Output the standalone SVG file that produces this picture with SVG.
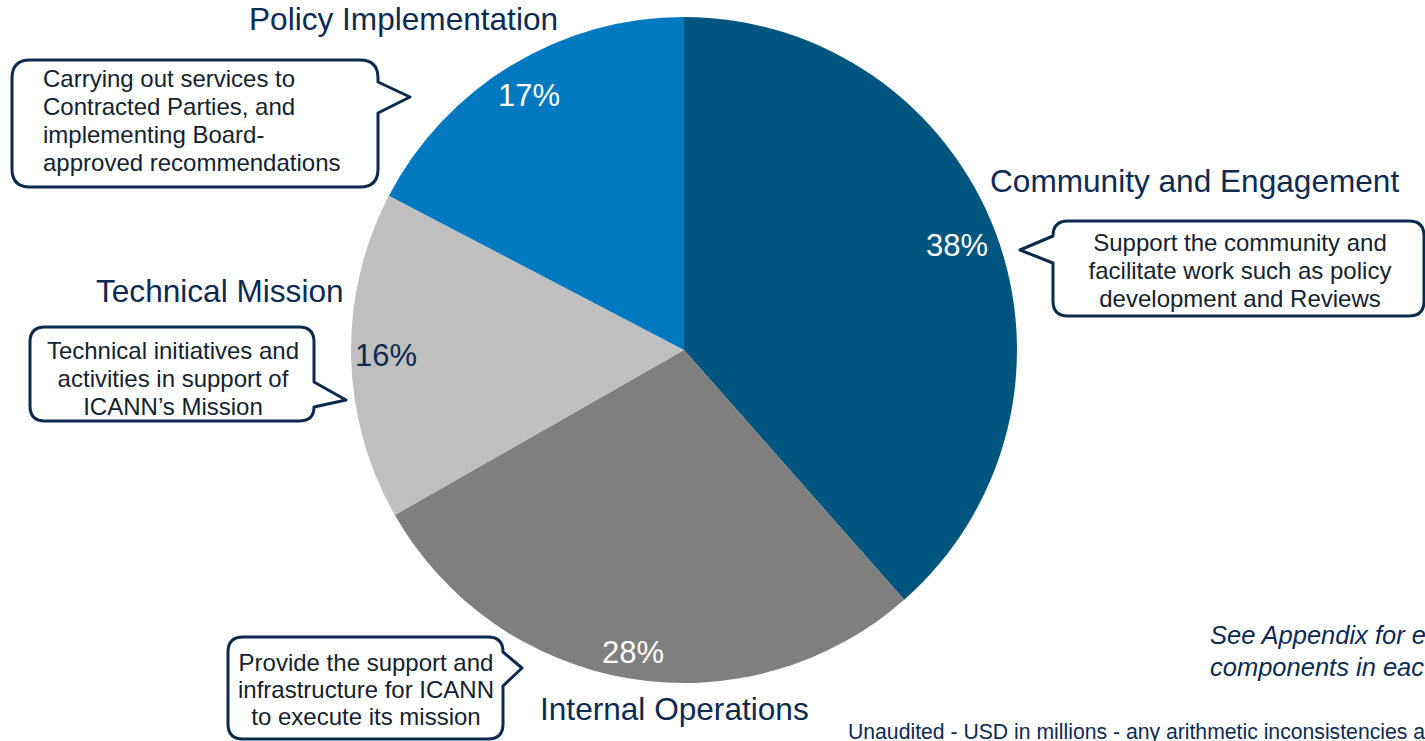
<svg xmlns="http://www.w3.org/2000/svg" width="1425" height="741" viewBox="0 0 1425 741">
<style>
.title{font-family:"Liberation Sans",Arial,sans-serif;font-size:31.6px;fill:#0D2B52}
.pct{font-family:"Liberation Sans",Arial,sans-serif;font-size:31px;text-anchor:middle}
.call{fill:#ffffff;stroke:#0C2A4D;stroke-width:3;stroke-linejoin:round}
.ct{font-family:"Liberation Sans",Arial,sans-serif;font-size:24px;fill:#14232E}
.note{font-family:"Liberation Sans",Arial,sans-serif;font-size:25.5px;font-style:italic;fill:#0D2B52}
.foot{font-family:"Liberation Sans",Arial,sans-serif;font-size:21.2px;fill:#0D2B52}
</style>
<rect width="1425" height="741" fill="#ffffff"/>
<g id="pie">
<path id="slice-community" d="M684,350 L684,17 A333,333 0 0 1 904.2,599.8 Z" fill="#00567E"/>
<path id="slice-internal" d="M684,350 L904.2,599.8 A333,333 0 0 1 394.8,515 Z" fill="#7F7F7F"/>
<path id="slice-technical" d="M684,350 L394.8,515 A333,333 0 0 1 388.9,195.7 Z" fill="#BFBFBF"/>
<path id="slice-policy" d="M684,350 L388.9,195.7 A333,333 0 0 1 684,17 Z" fill="#0079C1"/>
<text class="pct" x="529" y="106" fill="#ffffff">17%</text>
<text class="pct" x="957" y="256" fill="#ffffff">38%</text>
<text class="pct" x="386" y="366" fill="#0D2B52">16%</text>
<text class="pct" x="633" y="663" fill="#ffffff">28%</text>
</g>
<g id="titles">
<text class="title" x="249" y="30">Policy Implementation</text>
<text class="title" x="990" y="192">Community and Engagement</text>
<text class="title" x="96" y="302">Technical Mission</text>
<text class="title" x="540" y="720">Internal Operations</text>
</g>
<g id="callout-policy">
<path class="call" d="M30,60 H360 Q378,60 378,78 V82 L410,97 L378,113 V169 Q378,187 360,187 H30 Q12,187 12,169 V78 Q12,60 30,60 Z"/>
<text class="ct" x="43" y="87">Carrying out services to</text>
<text class="ct" x="43" y="115">Contracted Parties, and</text>
<text class="ct" x="43" y="143">implementing Board-</text>
<text class="ct" x="43" y="171">approved recommendations</text>
</g>
<g id="callout-community">
<path class="call" d="M1068,221 H1409 Q1424,221 1424,236 V301 Q1424,316 1409,316 H1068 Q1053,316 1053,301 V263 L1020,250 L1053,236 Q1053,221 1068,221 Z"/>
<text class="ct" x="1240" y="251" text-anchor="middle">Support the community and</text>
<text class="ct" x="1240" y="279" text-anchor="middle">facilitate work such as policy</text>
<text class="ct" x="1240" y="307" text-anchor="middle">development and Reviews</text>
</g>
<g id="callout-technical">
<path class="call" d="M45,327 H299 Q314,327 314,342 V382 L346,400 L314,407 Q314,421 299,421 H45 Q30,421 30,406 V342 Q30,327 45,327 Z"/>
<text class="ct" x="173" y="359" text-anchor="middle">Technical initiatives and</text>
<text class="ct" x="173" y="387" text-anchor="middle">activities in support of</text>
<text class="ct" x="173" y="415" text-anchor="middle">ICANN’s Mission</text>
</g>
<g id="callout-internal">
<path class="call" d="M243,637 H488 Q503,637 503,652 L522,668 L503,686 V724 Q503,739 488,739 H243 Q228,739 228,724 V652 Q228,637 243,637 Z"/>
<text class="ct" x="366" y="671" text-anchor="middle">Provide the support and</text>
<text class="ct" x="366" y="698" text-anchor="middle">infrastructure for ICANN</text>
<text class="ct" x="366" y="725" text-anchor="middle">to execute its mission</text>
</g>
<g id="connectors"></g>
<g id="notes">
<text class="note" x="1210" y="644">See Appendix for e</text>
<text class="note" x="1210" y="676">components in eac</text>
<text class="foot" x="848" y="739">Unaudited - USD in millions - any arithmetic inconsistencies a</text>
</g>
</svg>
